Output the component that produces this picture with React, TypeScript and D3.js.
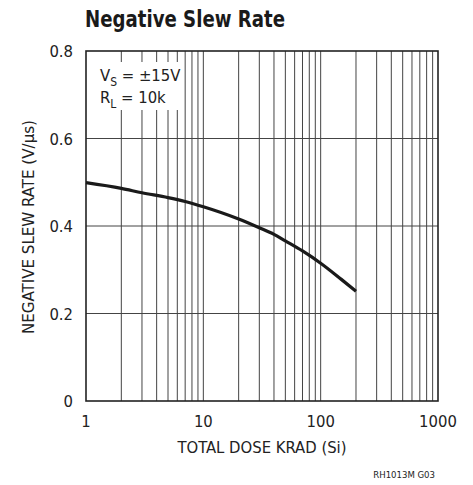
import { useEffect, useRef } from "react";
import * as d3 from "d3";

// curve
const dose = [1, 2, 3, 5, 7, 10, 20, 30, 40, 50, 70, 100, 150, 200];
const slewRate = [0.499, 0.486, 0.476, 0.465, 0.456, 0.444, 0.416, 0.396, 0.381, 0.366, 0.343, 0.315, 0.278, 0.251];

const xTicks = [1, 10, 100, 1000];
const yTicks = [0, 0.2, 0.4, 0.6, 0.8];

const FONT = "'DejaVu Sans Condensed', 'Liberation Sans Narrow', 'Liberation Sans', sans-serif";

export default function App() {
  const svgRef = useRef<SVGSVGElement>(null);

  useEffect(() => {
    if (!svgRef.current) return;
    const svg = d3.select(svgRef.current);
    svg.selectAll("*").remove();

    const margin = { top: 51, right: 35, bottom: 84, left: 86 };
    const width = 473;
    const height = 485;

    const x = d3.scaleLog().domain([1, 1000]).range([margin.left, width - margin.right]);
    const y = d3.scaleLinear().domain([0, 0.8]).range([height - margin.bottom, margin.top]);

    // title
    svg.append("text")
      .attr("x", 85)
      .attr("y", 27)
      .attr("font-family", FONT)
      .attr("font-weight", "bold")
      .attr("font-size", 23)
      .attr("textLength", 200)
      .attr("lengthAdjust", "spacingAndGlyphs")
      .attr("fill", "#1a1a1a")
      .text("Negative Slew Rate");

    const grid = svg.append("g");

    // vertical grid at every minor log tick
    const minor: number[] = [];
    for (let dec = 1; dec < 1000; dec *= 10) {
      for (let k = 2; k <= 9; k++) minor.push(dec * k);
    }
    minor.push(10, 100);
    grid.selectAll("line.v")
      .data(minor)
      .join("line")
      .attr("x1", d => x(d))
      .attr("x2", d => x(d))
      .attr("y1", y(0.8))
      .attr("y2", y(0))
      .attr("stroke", "#444")
      .attr("stroke-width", 1);

    grid.selectAll("line.h")
      .data([0.2, 0.4, 0.6])
      .join("line")
      .attr("x1", x(1))
      .attr("x2", x(1000))
      .attr("y1", d => y(d))
      .attr("y2", d => y(d))
      .attr("stroke", "#444")
      .attr("stroke-width", 1);

    // white box behind the conditions text
    svg.append("rect")
      .attr("x", x(1) + 1)
      .attr("y", 62)
      .attr("width", 94)
      .attr("height", 48)
      .attr("fill", "#fff");

    const cond = svg.append("g")
      .attr("font-family", FONT)
      .attr("font-size", 16.5)
      .attr("fill", "#222");
    const l1 = cond.append("text").attr("x", 100).attr("y", 81);
    l1.append("tspan").text("V");
    l1.append("tspan").attr("font-size", 12).attr("dy", 5).text("S");
    l1.append("tspan").attr("dy", -5).text(" = ±15V");
    const l2 = cond.append("text").attr("x", 100).attr("y", 103);
    l2.append("tspan").text("R");
    l2.append("tspan").attr("font-size", 12).attr("dy", 5).text("L");
    l2.append("tspan").attr("dy", -5).text(" = 10k");

    // frame
    svg.append("rect")
      .attr("x", x(1))
      .attr("y", y(0.8))
      .attr("width", x(1000) - x(1))
      .attr("height", y(0) - y(0.8))
      .attr("fill", "none")
      .attr("stroke", "#222")
      .attr("stroke-width", 1.6);

    // curve
    const line = d3.line<number>()
      .x((_, i) => x(dose[i]))
      .y(d => y(d))
      .curve(d3.curveMonotoneX);
    svg.append("path")
      .datum(slewRate)
      .attr("d", line)
      .attr("fill", "none")
      .attr("stroke", "#1a1a1a")
      .attr("stroke-width", 3.2);

    // tick labels
    svg.append("g")
      .selectAll("text")
      .data(yTicks)
      .join("text")
      .attr("x", 73)
      .attr("y", d => y(d) + 6)
      .attr("text-anchor", "end")
      .attr("font-family", FONT)
      .attr("font-size", 16.5)
      .attr("fill", "#222")
      .text(d => (d === 0 ? "0" : d.toFixed(1)));

    svg.append("g")
      .selectAll("text")
      .data(xTicks)
      .join("text")
      .attr("x", d => x(d))
      .attr("y", 427)
      .attr("text-anchor", "middle")
      .attr("font-family", FONT)
      .attr("font-size", 16.5)
      .attr("fill", "#222")
      .text(d => String(d));

    // axis titles
    svg.append("text")
      .attr("x", 262)
      .attr("y", 453)
      .attr("text-anchor", "middle")
      .attr("font-family", FONT)
      .attr("font-size", 16.5)
      .attr("fill", "#222")
      .text("TOTAL DOSE KRAD (Si)");

    svg.append("text")
      .attr("transform", `translate(34,${y(0.4) + 1}) rotate(-90)`)
      .attr("text-anchor", "middle")
      .attr("font-family", FONT)
      .attr("font-size", 16.5)
      .attr("textLength", 214)
      .attr("lengthAdjust", "spacingAndGlyphs")
      .attr("fill", "#222")
      .text("NEGATIVE SLEW RATE (V/μs)");

    svg.append("text")
      .attr("x", 435)
      .attr("y", 478)
      .attr("text-anchor", "end")
      .attr("font-family", FONT)
      .attr("font-size", 9.5)
      .attr("fill", "#222")
      .text("RH1013M G03");
  }, []);

  return (
    <svg
      ref={svgRef}
      width={473}
      height={485}
      style={{ position: "absolute", left: 0, top: 0, background: "#fff" }}
    />
  );
}
